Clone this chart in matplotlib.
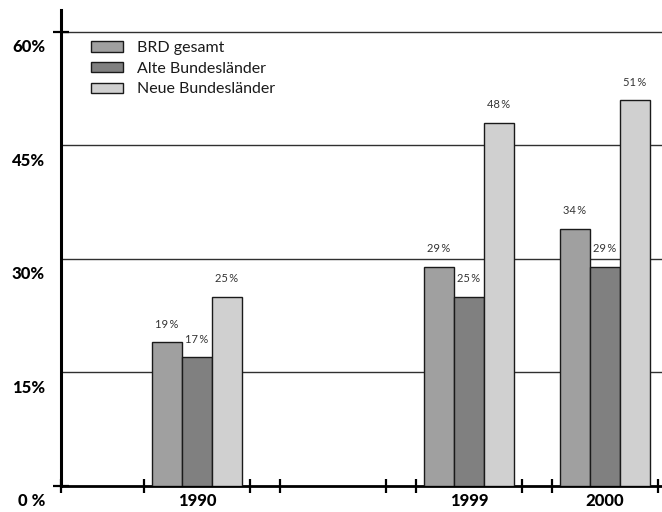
import numpy as np
import matplotlib
matplotlib.use("Agg")
import matplotlib.pyplot as plt

plt.rcParams['font.family'] = ['Lato', 'DejaVu Sans']

# Anteil in Prozent je Jahr (leerer Platz ohne Daten zwischen 1990 und 1999)
jahre = ['1990', '', '1999', '2000']
brd_gesamt = [19, np.nan, 29, 34]
alte_laender = [17, np.nan, 25, 29]
neue_laender = [25, np.nan, 48, 51]
reihen = ['BRD gesamt', 'Alte Bundesländer', 'Neue Bundesländer']
farben = ['#a0a0a0', '#808080', '#d0d0d0']
y_ticks = [0, 15, 30, 45, 60]
y_labels = ['0 %', '15%', '30%', '45%', '60%']

W, H = 662, 512
fig = plt.figure(figsize=(W / 100, H / 100), dpi=100)
ax = fig.add_axes([61 / W, 26 / H, (W - 61) / W, 476 / H])

pos = np.arange(1, len(jahre) + 1)
bw = 30 / 136
werte = [brd_gesamt, alte_laender, neue_laender]
for i, (vals, farbe, name) in enumerate(zip(werte, farben, reihen)):
    x = pos + (i - 1) * bw
    ax.bar(x, vals, width=bw, color=farbe, edgecolor='#1a1a1a',
           linewidth=1, label=name, zorder=3)
    for xi, v in zip(x, vals):
        if np.isnan(v):
            continue
        ax.annotate(f'{v:.0f}\u2009%', (xi, v), xytext=(0, 9), textcoords='offset points',
                    ha='center', va='bottom', fontsize=8, color='#333333')

ax.set_xlim(0, (W - 61) / 136)
ax.set_ylim(0, 476 / 7.567)

# Gitterlinien
for t in y_ticks[1:]:
    ax.axhline(t, color='#303030', lw=1, zorder=1)

for s in ['top', 'right']:
    ax.spines[s].set_visible(False)
ax.spines['left'].set_linewidth(2.2)
ax.spines['bottom'].set_linewidth(2.0)

# Striche an den Rändern jeder Jahresgruppe
half = 53 / 136
xt = [0] + [p + d for p in pos for d in (-half, half)]
ax.set_xticks(xt)
ax.set_xticklabels([])
ax.tick_params(axis='x', direction='inout', length=10, width=1.6)
ax.set_yticks([0, 60])
ax.set_yticklabels([])
ax.tick_params(axis='y', direction='inout', length=11, width=1.6)

for t, lab in zip(y_ticks, y_labels):
    ax.annotate(lab, (0, t), xycoords=ax.get_yaxis_transform(),
                xytext=(-11.5, -11), textcoords='offset points',
                ha='right', va='center', fontsize=12, fontweight='black')

for p, lab in zip(pos, jahre):
    ax.annotate(lab, (p, 0), xytext=(0, -10.5), textcoords='offset points',
                ha='center', va='center', fontsize=12, fontweight='black')

fs = 11.5
fpx = fs * 100 / 72
leg = ax.legend(loc='upper left', bbox_to_anchor=(91 / W, 1 - 41 / H),
                bbox_transform=fig.transFigure, frameon=False, fontsize=fs,
                handlelength=32 / fpx, handleheight=10 / fpx, labelspacing=0.42,
                handletextpad=14 / fpx, borderpad=0, borderaxespad=0)
for txt in leg.get_texts():
    txt.set_color('#1a1a1a')

fig.savefig('out.png', dpi=100)
